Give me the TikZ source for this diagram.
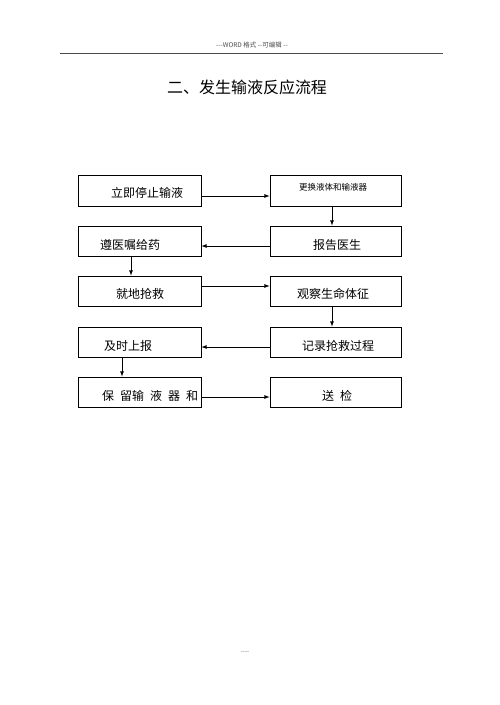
\documentclass[tikz,border=0pt]{standalone}
\usepackage{fontspec}
\setmainfont{Noto Sans CJK SC}
\usepackage{tikz}
\tikzset{
  box/.style={draw, line width=0.8pt, minimum height=30pt, inner sep=0pt},
  lbox/.style={box, minimum width=123pt},
  rbox/.style={box, minimum width=131pt},
  txt/.style={font=\fontsize{12}{14}\selectfont, inner sep=0pt},
  link/.style={->, >=latex, line width=0.8pt}
}

\begin{document}
\begin{tikzpicture}[x=1pt, y=-1pt]
\useasboundingbox (0,0) rectangle (500,705);

% page header and title
\draw(252,45) node[font=\fontsize{6.5}{8}\selectfont, text=black!70] (head) {{-}{-}{-}WORD 格式 {-}{-}可编辑 {-}{-}};
\draw[black!70, line width=0.8pt] (60,53) -- (443,53);
\draw(247,87) node[font=\fontsize{16}{18}\selectfont] (title) {二、发生输液反应流程};

% boxes
\draw(139.5,190.5) node[lbox, minimum height=31pt] (stop) {};
\draw(335.5,190.5) node[rbox, minimum height=31pt] (swap) {};
\draw(139.5,241) node[lbox] (order) {};
\draw(335.5,241) node[rbox] (doctor) {};
\draw(139.5,291) node[lbox] (rescue) {};
\draw(335.5,291) node[rbox] (watch) {};
\draw(139.5,342) node[lbox] (report) {};
\draw(335.5,342) node[rbox] (record) {};
\draw(139.5,392) node[lbox] (keep) {};
\draw(335.5,392) node[rbox] (send) {};

% texts
\draw(147,193) node[txt] (tstop) {立即停止输液};
\draw(333,187) node[txt, font=\fontsize{8.5}{10}\selectfont] (tswap) {更换液体和输液器};
\draw(130,245) node[txt] (torder) {遵医嘱给药};
\draw(337,245) node[txt] (tdoctor) {报告医生};
\draw(140,294) node[txt] (trescue) {就地抢救};
\draw(333,294) node[txt] (twatch) {观察生命体征};
\draw(128,346) node[txt] (treport) {及时上报};
\draw(338,346) node[txt] (trecord) {记录抢救过程};
\draw(150,396) node[txt] (tkeep) {保\hspace{6pt}留输\hspace{6pt}液\hspace{6pt}器\hspace{6pt}和};
\draw(337,396) node[txt] (tsend) {送\hspace{6pt}检};

% arrows
\draw[link] ([yshift=-5.5pt]stop.east) -- ([yshift=-5.5pt]swap.west);
\draw[link] ([xshift=-3.5pt]swap.south) -- ([xshift=-3.5pt]doctor.north);
\draw[link] ([yshift=-5pt]doctor.west) -- ([yshift=-5pt]order.east);
\draw[link] ([xshift=-8.5pt]order.south) -- ([xshift=-8.5pt]rescue.north);
\draw[link] ([yshift=5pt]rescue.east) -- ([yshift=5pt]watch.west);
\draw[link] ([xshift=-3.5pt]watch.south) -- ([xshift=-3.5pt]record.north);
\draw[link] ([yshift=-5pt]record.west) -- ([yshift=-5pt]report.east);
\draw[link] ([xshift=-17.5pt]report.south) -- ([xshift=-17.5pt]keep.north);
\draw[link] ([yshift=-5pt]keep.east) -- ([yshift=-5pt]send.west);

% page footer
\draw(245,653) node[font=\fontsize{6}{7}\selectfont, text=black!60] (foot) {{-}{-}{-}{-}};

\end{tikzpicture}
\end{document}
